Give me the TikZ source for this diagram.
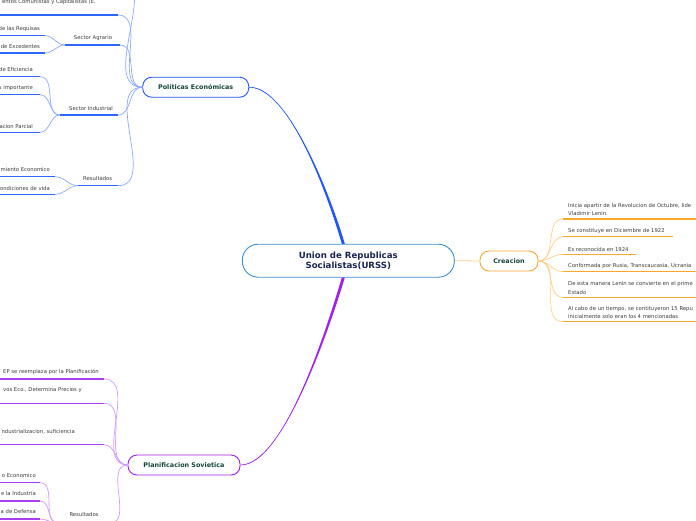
\documentclass[tikz,border=0pt]{standalone}
\usepackage{fontspec}
\setmainfont{DejaVu Sans}
\definecolor{polBlue}{HTML}{1F56FF}
\definecolor{lineBlue}{HTML}{2F66FF}
\definecolor{linkBlue}{HTML}{8CA8FF}
\definecolor{planPurple}{HTML}{A020F0}
\definecolor{linePurple}{HTML}{A93DF2}
\definecolor{linkPurple}{HTML}{D496FF}
\definecolor{creOrange}{HTML}{F7A631}
\definecolor{lineOrange}{HTML}{FBA82A}
\definecolor{linkOrange}{HTML}{FFD08A}
\definecolor{urssBlue}{HTML}{3A8DD3}
\definecolor{titleGreen}{HTML}{14463A}
\definecolor{urssNavy}{HTML}{1B2552}
\definecolor{itemGrey}{HTML}{3A3A3A}
\begin{document}
\begin{tikzpicture}[x=1pt, y=-1pt,
    central/.style={rectangle, rounded corners=16pt, draw=urssBlue, line width=0.9pt, fill=white, text=urssNavy, align=center, font=\bfseries\fontsize{8.6}{10.5}\selectfont, minimum width=212pt, minimum height=33pt},
    topic/.style={rectangle, rounded corners=9pt, draw, line width=0.9pt, fill=white, text=titleGreen, font=\bfseries\fontsize{6.4}{8}\selectfont, minimum height=20pt},
    item/.style={font=\fontsize{5.3}{8.3}\selectfont, text=itemGrey, inner sep=0pt, align=left},
    uline/.style={line width=1.5pt},
    link/.style={line width=0.7pt}
]
\useasboundingbox (0,0) rectangle (696,520);
\clip (0,0) rectangle (696,520);

% Main topics
\node[central] (urss) at (348.3,260.7) {Union de Republicas\\Socialistas(URSS)};
\node[topic, draw=polBlue, minimum width=106pt] (politicas) at (195.7,87.2) {Políticas Económicas};
\node[topic, draw=creOrange, minimum width=58pt] (creacion) at (509,261) {Creacion};
\node[topic, draw=planPurple, minimum width=112pt] (planificacion) at (184,465) {Planificacion Sovietica};

% Main connectors
\fill[polBlue] ([xshift=-6.5pt]urss.north) .. controls (329,200) and (290,86.5) .. (politicas.east)
    .. controls (290,88) and (332,200) .. ([xshift=-3.5pt]urss.north) -- cycle;
\draw[polBlue, line width=0.6pt] ([xshift=-5pt]urss.north) .. controls (330,200) and (290,87.2) .. (politicas.east);
\fill[planPurple] ([xshift=-6.5pt]urss.south) .. controls (329,320) and (285,466) .. (planificacion.east)
    .. controls (285,464) and (332,320) .. ([xshift=-3.5pt]urss.south) -- cycle;
\draw[planPurple, line width=0.6pt] ([xshift=-5pt]urss.south) .. controls (330,320) and (285,465) .. (planificacion.east);
\draw[linkOrange, line width=0.8pt] (urss.east) -- (creacion.west);

% Creacion
\node[item, anchor=south west] (inicia) at (568,216) {Inicia apartir de la Revolucion de Octubre, lide\\Vladimir Lenin.};
\node[item, anchor=south west] (diciembre) at (568,233.7) {Se constituye en Diciembre de 1922};
\node[item, anchor=south west] (reconocida) at (568,251.3) {Es reconocida en 1924};
\node[item, anchor=south west] (conformada) at (568,268.7) {Conformada por Rusia, Transcaucasia, Ucrania};
\node[item, anchor=south west] (lenin) at (568,294.3) {De esta manera Lenin se convierte en el prime\\Estado};
\node[item, anchor=south west] (repu) at (568,318.7) {Al cabo de un tiempo, se contituyeron 15 Repu\\inicialmente solo eran los 4 mencionadas};

\coordinate (iniciaL) at (563,219);
\coordinate (diciembreL) at (563,236.7);
\coordinate (reconocidaL) at (563,254.3);
\coordinate (conformadaL) at (563,271.7);
\coordinate (leninL) at (563,297.3);
\coordinate (repuL) at (563,321.7);

\draw[uline, lineOrange] (iniciaL) -- ++(140,0);
\draw[uline, lineOrange] (diciembreL) -- ++(110,0);
\draw[uline, lineOrange] (reconocidaL) -- ++(72.7,0);
\draw[uline, lineOrange] (conformadaL) -- ++(140,0);
\draw[uline, lineOrange] (leninL) -- ++(140,0);
\draw[uline, lineOrange] (repuL) -- ++(140,0);
\foreach \n in {iniciaL, diciembreL, reconocidaL, conformadaL, leninL, repuL}
    \draw[link, linkOrange] (creacion.east) to[out=0, in=180] (\n);

% Politicas Economicas
\node[item, anchor=east] (comunistas) at (96,2.5) {entos Comunistas y Capitalistas (E.};
\node[item] (agrario) at (93,38) {Sector Agrario};
\node[item, anchor=east] (requisas) at (40,29) {de las Requisas};
\node[item, anchor=east] (excedentes) at (40,47) {de Excedentes};
\node[item] (industrial) at (91,108.7) {Sector Industrial};
\node[item, anchor=east] (eficiencia) at (33,69.7) {de Eficiencia};
\node[item, anchor=east] (importante) at (33,88) {s importante};
\node[item, anchor=east] (parcial) at (33,126.7) {acion Parcial};
\node[item] (resPol) at (97.7,179) {Resultados};
\node[item, anchor=east] (economico) at (50,170) {miento Economico};
\node[item, anchor=east] (vida) at (50,188.3) {ondiciones de vida};

\coordinate (hiddenR) at (118,-25);
\coordinate (comunistasR) at (118,15);
\coordinate (agrarioR) at (120,45);
\coordinate (agrarioL) at (65,45);
\coordinate (requisasR) at (45,35.7);
\coordinate (excedentesR) at (45,53);
\coordinate (industrialR) at (118,115);
\coordinate (industrialL) at (60,115);
\coordinate (eficienciaR) at (40,76.7);
\coordinate (importanteR) at (40,94.7);
\coordinate (parcialR) at (40,132.3);
\coordinate (resPolR) at (118,185.7);
\coordinate (resPolL) at (78,185.7);
\coordinate (economicoR) at (55,176.7);
\coordinate (vidaR) at (55,194.3);

\draw[uline, lineBlue] (comunistasR) -- ++(-130,0);
\draw[uline, lineBlue] (agrarioL) -- (agrarioR);
\draw[uline, lineBlue] (industrialL) -- (industrialR);
\draw[uline, lineBlue] (resPolL) -- (resPolR);
\foreach \n in {requisasR, excedentesR, eficienciaR, importanteR, parcialR, economicoR, vidaR}
    \draw[uline, lineBlue] (\n) -- ++(-60,0);
\foreach \n in {hiddenR, comunistasR, agrarioR, industrialR, resPolR}
    \draw[link, linkBlue] (politicas.west) to[out=180, in=0] (\n);
\draw[link, linkBlue] (agrarioL) to[out=180, in=0] (requisasR);
\draw[link, linkBlue] (agrarioL) to[out=180, in=0] (excedentesR);
\draw[link, linkBlue] (industrialL) to[out=180, in=0] (eficienciaR);
\draw[link, linkBlue] (industrialL) to[out=180, in=0] (importanteR);
\draw[link, linkBlue] (industrialL) to[out=180, in=0] (parcialR);
\draw[link, linkBlue] (resPolL) to[out=180, in=0] (economicoR);
\draw[link, linkBlue] (resPolL) to[out=180, in=0] (vidaR);

% Planificacion Sovietica
\node[item, anchor=east] (reemplaza) at (99,372) {EP se reemplaza por la Planificación};
\node[item, anchor=east] (precios) at (82,390) {vos Eco., Determina Precios y};
\node[item, anchor=east] (suficiencia) at (75,432) {ndustrializacion, suficiencia};
\node[item] (resPlan) at (84,515) {Resultados};
\node[item, anchor=east] (ecoPlan) at (36,475.7) {o Economico};
\node[item, anchor=east] (industria) at (36,494) {e la Industria};
\node[item, anchor=east] (defensa) at (36,512) {a de Defensa};

\coordinate (reemplazaR) at (104,379);
\coordinate (preciosR) at (104,403.3);
\coordinate (suficienciaR) at (104,444.7);
\coordinate (resPlanR) at (110,523);
\coordinate (resPlanL) at (58,523);
\coordinate (ecoPlanR) at (40,482.7);
\coordinate (industriaR) at (40,501);
\coordinate (defensaR) at (40,519);

\draw[uline, linePurple] (resPlanL) -- (resPlanR);
\foreach \n in {reemplazaR, preciosR, suficienciaR}
    \draw[uline, linePurple] (\n) -- ++(-110,0);
\foreach \n in {ecoPlanR, industriaR, defensaR}
    \draw[uline, linePurple] (\n) -- ++(-45,0);
\foreach \n in {reemplazaR, preciosR, suficienciaR, resPlanR}
    \draw[link, linkPurple] (planificacion.west) to[out=180, in=0] (\n);
\foreach \n in {ecoPlanR, industriaR, defensaR}
    \draw[link, linkPurple] (resPlanL) to[out=180, in=0] (\n);

\end{tikzpicture}
\end{document}
